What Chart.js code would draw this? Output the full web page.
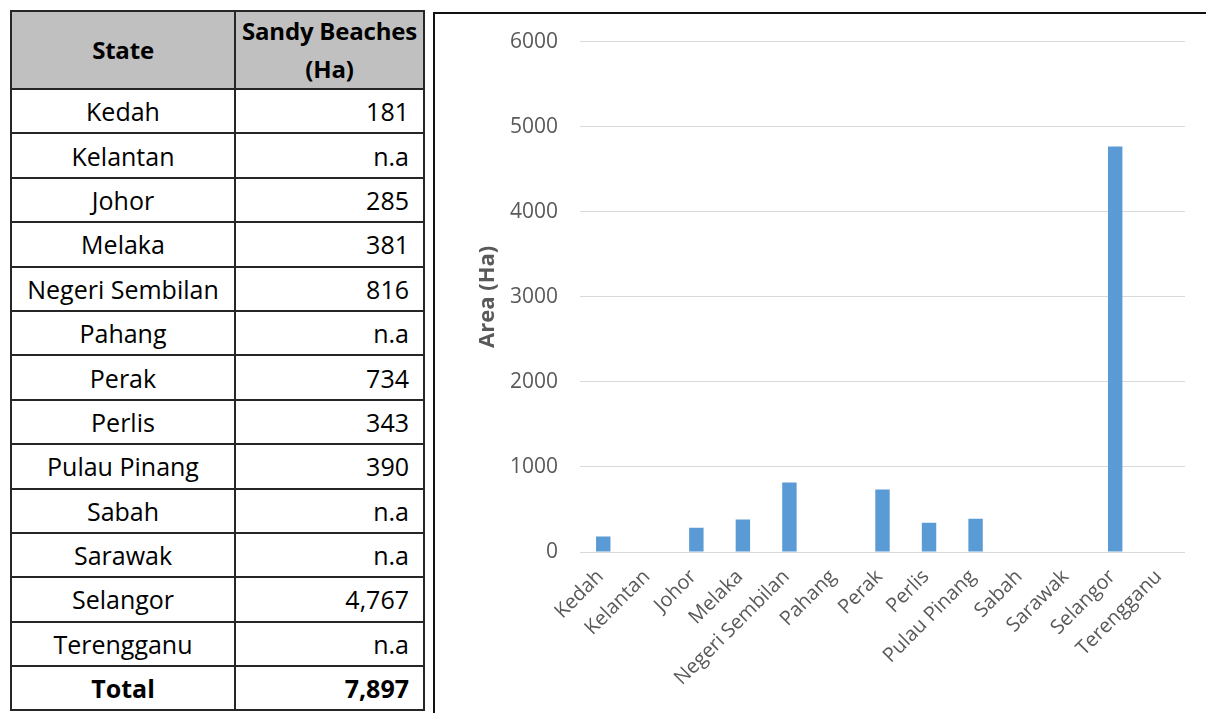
<!DOCTYPE html>
<html>
<head>
<meta charset="utf-8">
<script src="https://cdn.jsdelivr.net/npm/chart.js@4/dist/chart.umd.min.js"></script>
<style>
  body { margin: 0; background: #fff; font-family: "Open Sans", sans-serif; overflow: hidden; }
  #beachTable {
    position: absolute; left: 10px; top: 10px;
    border-collapse: collapse; font-size: 25px; color: #000;
    table-layout: fixed; width: 415px;
  }
  #beachTable th, #beachTable td { border: 2px solid #262626; height: 42.4px; padding: 0 14px; }
  #beachTable th {
    background: #c0c0c0; height: 76px; line-height: 38px; font-weight: bold;
    font-size: 24px; padding: 0; white-space: nowrap; letter-spacing: -0.2px;
  }
  #beachTable th.state { width: 222px; }
  #beachTable td.state { text-align: center; padding: 0 1px; }
  #beachTable td.value { text-align: right; }
  #beachTable tr.total td { font-weight: bold; }
  #chartBox {
    position: absolute; left: 433px; top: 12px; width: 800px; height: 720px;
    border-left: 2px solid #111; border-top: 2px solid #111;
  }
  #chartWrap { position: absolute; left: 0; top: -7px; width: 773px; height: 708px; }
</style>
</head>
<body>

<table id="beachTable"></table>

<div id="chartBox">
  <div id="chartWrap"><canvas id="beachChart"></canvas></div>
</div>

<script>
// Sandy beach area per state (hectares), null = not available
const states = ['Kedah', 'Kelantan', 'Johor', 'Melaka', 'Negeri Sembilan', 'Pahang', 'Perak',
  'Perlis', 'Pulau Pinang', 'Sabah', 'Sarawak', 'Selangor', 'Terengganu'];
const beachArea = [181, null, 285, 381, 816, null, 734, 343, 390, null, null, 4767, null];
const yTicks = [0, 1000, 2000, 3000, 4000, 5000, 6000];

const FONT = '"Open Sans", sans-serif';

function formatHa(v) {
  return v === null ? 'n.a' : v.toLocaleString('en-US');
}

// ---- table ----
function buildTable() {
  const table = document.getElementById('beachTable');
  let html = '<tr><th class="state">State</th><th>Sandy Beaches<br>(Ha)</th></tr>';
  states.forEach((s, i) => {
    html += `<tr><td class="state">${s}</td><td class="value">${formatHa(beachArea[i])}</td></tr>`;
  });
  const total = beachArea.reduce((sum, v) => sum + (v || 0), 0);
  html += `<tr class="total"><td class="state">Total</td><td class="value">${formatHa(total)}</td></tr>`;
  table.innerHTML = html;
}

// ---- chart ----
function renderBeachChart() {
  const ctx = document.getElementById('beachChart');
  const labelColor = '#595959';

  new Chart(ctx, {
    type: 'bar',
    data: {
      labels: states,
      datasets: [{
        label: 'Sandy Beaches (Ha)',
        data: beachArea,
        backgroundColor: '#5b9bd5',
        borderWidth: 0,
        barPercentage: 1,
        categoryPercentage: 0.31
      }]
    },
    options: {
      responsive: true,
      maintainAspectRatio: false,
      animation: false,
      layout: { padding: { left: 40, right: 23, top: 22, bottom: 0 } },
      plugins: {
        legend: { display: false },
        tooltip: { enabled: false }
      },
      scales: {
        y: {
          min: 0,
          max: 6000,
          afterFit: (scale) => { scale.width = 105; },
          afterBuildTicks: (scale) => { scale.ticks = yTicks.map(v => ({ value: v })); },
          grid: { color: '#d9d9d9', lineWidth: 1, drawTicks: false },
          border: { display: false },
          ticks: {
            color: labelColor,
            padding: 22,
            callback: (v) => String(v),
            font: { family: FONT, size: 21 }
          },
          title: {
            display: true,
            text: 'Area (Ha)',
            color: labelColor,
            padding: 0,
            font: { family: FONT, size: 22, weight: 'bold' }
          }
        },
        x: {
          afterFit: (scale) => { scale.height = 163; },
          grid: { display: false, drawTicks: false },
          border: { display: false },
          ticks: {
            color: labelColor,
            minRotation: 45,
            maxRotation: 45,
            autoSkip: false,
            padding: 13,
            labelOffset: -3,
            font: { family: FONT, size: 20 }
          }
        }
      }
    }
  });
}

buildTable();
renderBeachChart();
</script>
</body>
</html>
